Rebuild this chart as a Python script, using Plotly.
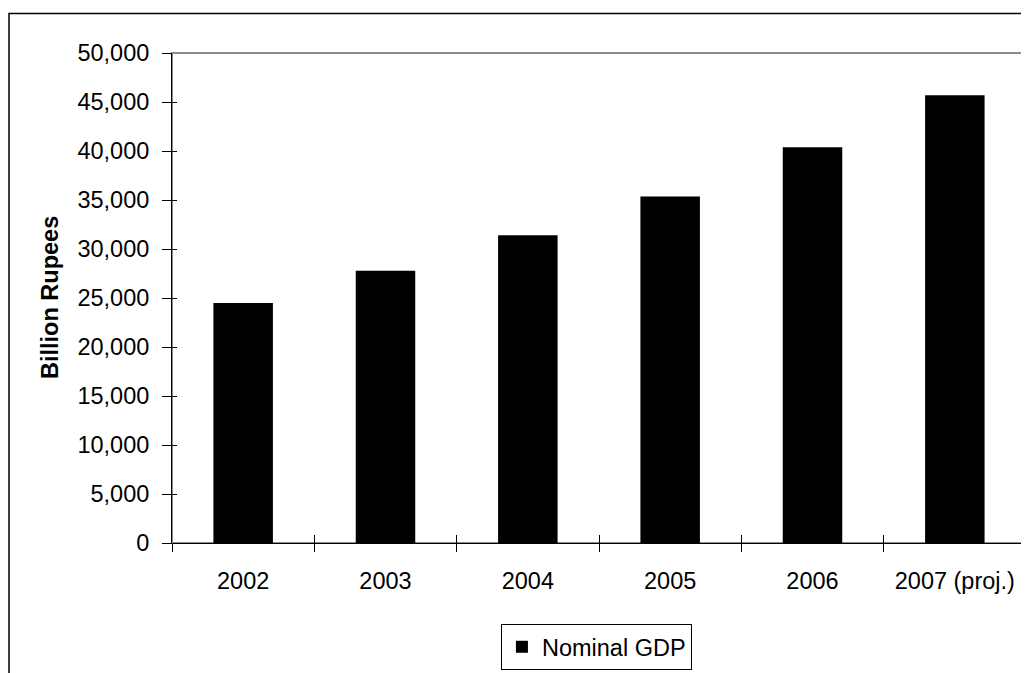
import plotly.graph_objects as go

years = ["2002", "2003", "2004", "2005", "2006", "2007 (proj.)"]
gdp = [24500, 27780, 31400, 35360, 40370, 45700]
series_name = "Nominal GDP"
y_title = "Billion Rupees"
y_max = 50000
y_step = 5000

FONT = "Liberation Sans, Arial, sans-serif"
OFF = 8  # page body margin in the browser
W, H = 1029 - OFF, 673 - OFF
ML, MR, MT, MB = 172 - OFF, 3, 53 - OFF, 124
pw, ph = W - ML - MR, H - MT - MB

def px2paper_x(px):
    # px in reference screenshot coordinates
    return (px - OFF - ML) / pw

def px2paper_y(py):
    return (H - MB - (py - OFF)) / ph

fig = go.Figure()
fig.add_trace(go.Bar(
    x=years, y=gdp, name=series_name,
    marker=dict(color="black", line=dict(width=0)),
    showlegend=True,
))

fig.update_layout(
    width=W, height=H,
    margin=dict(l=ML, r=MR, t=MT, b=MB, pad=0),
    paper_bgcolor="white", plot_bgcolor="white",
    font=dict(family=FONT, size=23.5, color="black"),
    bargap=0.582,
    showlegend=True,
    legend=dict(
        orientation="h", x=0.497, xanchor="center",
        y=px2paper_y(631), yanchor="top",
        bordercolor="black", borderwidth=1,
        font=dict(size=23.5), bgcolor="white",
        itemwidth=30,
    ),
    xaxis=dict(
        type="category", range=[-0.5, 5.5],
        tickson="boundaries", ticks="outside", ticklen=8, tickwidth=1,
        tickcolor="black", showline=True, linecolor="black", linewidth=1,
        showgrid=False, zeroline=False, ticklabelstandoff=17,
        tickfont=dict(size=23.5),
    ),
    xaxis2=dict(
        overlaying="x", range=[-0.5, 5.5], tick0=-0.5, dtick=1,
        ticks="inside", ticklen=8, tickwidth=1, tickcolor="black",
        showticklabels=False, showgrid=False, zeroline=False,
        showline=False, anchor="y",
    ),
    yaxis=dict(
        range=[0, y_max], tick0=0, dtick=y_step,
        ticks="outside", ticklen=9, tickwidth=1, tickcolor="black",
        showline=True, linecolor="black", linewidth=1,
        showgrid=False, zeroline=False,
        tickformat=",d", ticklabelstandoff=8,
        tickfont=dict(size=23.5),
    ),
    yaxis2=dict(
        overlaying="y", range=[0, y_max], tick0=0, dtick=y_step,
        ticks="inside", ticklen=5, tickwidth=1, tickcolor="black",
        showticklabels=False, showgrid=False, zeroline=False,
        showline=False, side="left", anchor="x",
    ),
)

# invisible helper trace so the overlay axes render
fig.add_trace(go.Scatter(
    x=[0, 5], y=[0, 0], xaxis="x2", yaxis="y2", mode="markers",
    marker=dict(opacity=0), showlegend=False, hoverinfo="skip",
))

# plot-area border (gray) and outer chart border (black)
fig.add_shape(type="rect", xref="paper", yref="paper", x0=0, y0=0, x1=1, y1=1,
              line=dict(color="#8c8c8c", width=2), layer="below")
fig.add_shape(type="rect", xref="paper", yref="paper",
              x0=px2paper_x(9), y0=px2paper_y(720),
              x1=px2paper_x(1060), y1=px2paper_y(13),
              line=dict(color="black", width=1.5))

fig.add_annotation(
    text="<b>" + y_title + "</b>", textangle=-90,
    xref="paper", yref="paper", x=px2paper_x(50), y=0.5,
    xanchor="center", yanchor="middle", showarrow=False,
    font=dict(size=23.5, family=FONT, color="black"),
)

fig.write_html("out.html")
